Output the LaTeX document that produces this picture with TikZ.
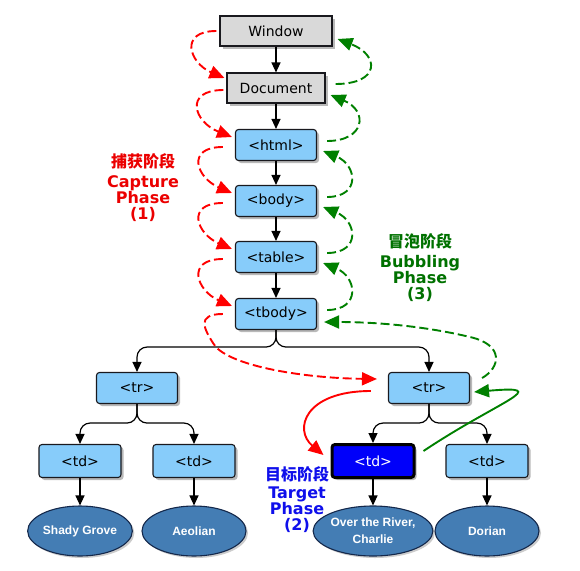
\documentclass[tikz,border=0pt]{standalone}
\usepackage{fontspec}
\setmainfont{DejaVu Sans}
\newfontfamily\cjk{Noto Sans CJK SC}
\newfontfamily\leafface{Liberation Sans}
\definecolor{ink}{RGB}{25,25,30}
\definecolor{paper}{RGB}{217,217,217}
\definecolor{cell}{RGB}{135,204,250}
\definecolor{hit}{RGB}{0,0,250}
\definecolor{leaf}{RGB}{68,125,180}
\definecolor{leafline}{RGB}{20,40,75}
\definecolor{capred}{RGB}{255,0,0}
\definecolor{bubgreen}{RGB}{0,128,0}
\definecolor{tgtblue}{RGB}{15,15,235}
\newcommand\boxfont{\fontsize{14}{16}\selectfont}
\newcommand\leaffont{\leafface\bfseries\fontsize{12}{17}\selectfont}
\newcommand\phasefont{\fontsize{16}{16}\selectfont\bfseries}
\usetikzlibrary{arrows.meta,shapes.geometric,shadows}
\tikzset{
  frame/.style={draw=ink, line width=1.1pt, inner sep=0pt, font=\boxfont,
              drop shadow={shadow xshift=2.5pt, shadow yshift=-2.5pt, opacity=.55}},
  rootbox/.style={frame, fill=paper, minimum height=30pt},
  elbox/.style={frame, fill=cell, rounded corners=3pt, minimum width=81pt, minimum height=31pt},
  tdbox/.style={elbox, minimum width=82pt, minimum height=33pt},
  hitbox/.style={tdbox, fill=hit, draw=black, line width=3pt, text=white},
  leafnode/.style={ellipse, draw=leafline, line width=1.1pt, fill=leaf, text=white,
              minimum width=104pt, minimum height=50pt, inner sep=0pt, align=center, font=\leaffont,
              drop shadow={shadow xshift=2pt, shadow yshift=-2pt, opacity=.4}},
  tree/.style={-{Triangle[length=10pt,width=9pt]}, black, line width=1.2pt, rounded corners=10pt},
  capture/.style={-{Triangle[length=15pt,width=13pt]}, capred, line width=1.9pt, dash pattern=on 9pt off 4pt},
  bubble/.style={-{Triangle[length=15pt,width=13pt]}, bubgreen, line width=1.9pt, dash pattern=on 9pt off 4pt},
  phase/.style={font=\phasefont, anchor=base, inner sep=0pt},
}
\begin{document}
\begin{tikzpicture}[x=1pt,y=-1pt]
    \useasboundingbox (0,0) rectangle (580,570);
    % --- the chain from window down to tbody ---
    \node[rootbox, minimum width=112pt] (win) at (276,31) {Window};
    \node[rootbox, minimum width=98pt]  (doc) at (276,88) {Document};
    \node[elbox] (html)  at (276,145) {<html>};
    \node[elbox] (body)  at (276,201) {<body>};
    \node[elbox] (table) at (276,257) {<table>};
    \node[elbox] (tbody) at (276,314) {<tbody>};
    \draw[tree] (win) -- (doc);
    \draw[tree] (doc) -- (html);
    \draw[tree] (html) -- (body);
    \draw[tree] (body) -- (table);
    \draw[tree] (table) -- (tbody);
    % --- rows, cells and texts ---
    \node[elbox] (trL) at (137,388) {<tr>};
    \node[elbox] (trR) at (429,388) {<tr>};
    \node[tdbox]  (tdA) at (80,461)  {<td>};
    \node[tdbox]  (tdB) at (194,461) {<td>};
    \node[hitbox] (hit) at (373,461) {<td>};
    \node[tdbox]  (tdD) at (487,461) {<td>};
    \node[leafnode] (leafA) at (80,531)  {Shady Grove};
    \node[leafnode] (leafB) at (194,531) {Aeolian};
    \node[leafnode] (leafC) at (373,531) {Over the River,\\Charlie};
    \node[leafnode] (leafD) at (487,531) {Dorian};
    \draw[tree] (tbody.south) -- ++(0,17) -| (trL.north);
    \draw[tree] (tbody.south) -- ++(0,17) -| (trR.north);
    \draw[tree] (trL.south) -- ++(0,19) -| (tdA.north);
    \draw[tree] (trL.south) -- ++(0,19) -| (tdB.north);
    \draw[tree] (trR.south) -- ++(0,19) -| (hit.north);
    \draw[tree] (trR.south) -- ++(0,19) -| (tdD.north);
    \draw[tree] (tdA) -- (leafA);
    \draw[tree] (tdB) -- (leafB);
    \draw[tree] (hit) -- (leafC);
    \draw[tree] (tdD) -- (leafD);
    % --- capture: down the left side ---
    \draw[capture] ([xshift=-3pt]win.west) .. controls +(-38,0) and +(-35,-15) .. ([xshift=-2pt,yshift=10pt]doc.west);
    \draw[capture] ([xshift=-3pt,yshift=-2pt]doc.west) .. controls +(-40,0) and +(-38,-15) .. ([xshift=-3pt,yshift=8pt]html.west);
    \draw[capture] ([xshift=-12pt,yshift=-2pt]html.west) .. controls +(-38,0) and +(-35,-15) .. ([xshift=-3pt,yshift=8pt]body.west);
    \draw[capture] ([xshift=-12pt,yshift=-2pt]body.west) .. controls +(-38,0) and +(-35,-15) .. ([xshift=-3pt,yshift=8pt]table.west);
    \draw[capture] ([xshift=-12pt,yshift=-2pt]table.west) .. controls +(-38,0) and +(-35,-15) .. ([xshift=-3pt,yshift=8pt]tbody.west);
    \draw[capture] ([xshift=-12pt]tbody.west) .. controls +(-28,0) and (205,330) .. (213,343)
      .. controls (225,365) and (300,378) .. ([xshift=-11pt,yshift=9pt]trR.west);
    \draw[capture, solid] ([xshift=-17pt,yshift=-3pt]trR.west) .. controls +(-67,0) and +(-30,-25) .. ([xshift=-7pt,yshift=6pt]hit.west);
    % --- bubbling: back up the right side ---
    \draw[bubble, solid] ([xshift=8pt,yshift=10pt]hit.east) .. controls (500,400) and (555,385) .. ([xshift=4pt,yshift=-4pt]trR.east);
    \draw[bubble] ([xshift=12pt,yshift=10pt]trR.east) .. controls +(18,-10) and (505,345) .. (470,337)
      .. controls (420,325) and (370,322) .. ([xshift=7pt,yshift=-8pt]tbody.east);
    \draw[bubble] ([xshift=10pt,yshift=4pt]tbody.east) .. controls +(34,0) and +(34,14) .. ([xshift=6pt,yshift=-6pt]table.east);
    \draw[bubble] ([xshift=10pt,yshift=4pt]table.east) .. controls +(34,0) and +(34,14) .. ([xshift=6pt,yshift=-6pt]body.east);
    \draw[bubble] ([xshift=10pt,yshift=4pt]body.east) .. controls +(34,0) and +(34,14) .. ([xshift=6pt,yshift=-6pt]html.east);
    \draw[bubble] ([xshift=10pt,yshift=4pt]html.east) .. controls +(38,0) and +(38,16) .. ([xshift=5pt,yshift=-7pt]doc.east);
    \draw[bubble] ([xshift=10pt,yshift=4pt]doc.east) .. controls +(45,0) and +(42,16) .. ([xshift=5pt,yshift=-8pt]win.east);
    % --- phase labels ---
    \node[phase, text=capred!92!black] (capA) at (143,167) {\cjk\bfseries 捕获阶段};
    \node[phase, text=capred!92!black] (capB) at (143,187) {Capture};
    \node[phase, text=capred!92!black] (capC) at (143,203) {Phase};
    \node[phase, text=capred!92!black] (capD) at (143,219) {(1)};
    \node[phase, text=bubgreen!88!black] (bubA) at (420,247) {\cjk\bfseries 冒泡阶段};
    \node[phase, text=bubgreen!88!black] (bubB) at (420,267) {Bubbling};
    \node[phase, text=bubgreen!88!black] (bubC) at (420,283) {Phase};
    \node[phase, text=bubgreen!88!black] (bubD) at (420,299) {(3)};
    \node[phase, text=tgtblue] (tgtA) at (297,480) {\cjk\bfseries 目标阶段};
    \node[phase, text=tgtblue] (tgtB) at (297,498) {Target};
    \node[phase, text=tgtblue] (tgtC) at (297,514) {Phase};
    \node[phase, text=tgtblue] (tgtD) at (297,530) {(2)};
\end{tikzpicture}
\end{document}
